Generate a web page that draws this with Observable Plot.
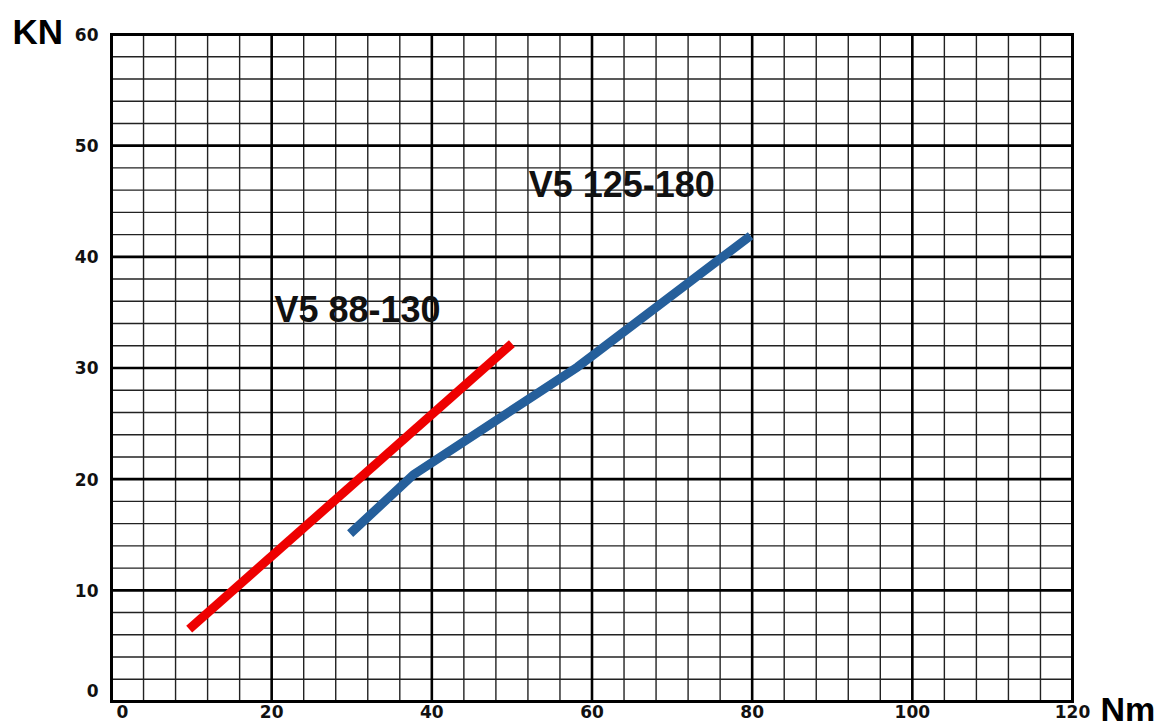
<!DOCTYPE html>
<html>
<head>
<meta charset="utf-8">
<script src="https://cdn.jsdelivr.net/npm/d3@7"></script>
<script src="https://cdn.jsdelivr.net/npm/@observablehq/plot@0.6"></script>
<style>
  html, body { margin: 0; padding: 0; background: #fff; }
  #chart svg { display: block; }
</style>
</head>
<body>
<div id="chart"></div>
<script>
// Series data (Nm -> KN)
const redX = [9.7, 50.0];
const redY = [6.5, 32.2];
const blueX = [29.8, 37.7, 58.2, 79.8];
const blueY = [15.1, 20.4, 30.1, 41.9];

// Series labels
const seriesNames = ["V5 88-130", "V5 125-180"];
const labelX = [20.35, 52.1];
const labelY = [34.1, 45.4];

// Axis ticks
const xMajorTicks = [0, 20, 40, 60, 80, 100, 120];
const xMinorTicks = [0, 4, 8, 12, 16, 20, 24, 28, 32, 36, 40, 44, 48, 52, 56, 60, 64, 68, 72, 76, 80, 84, 88, 92, 96, 100, 104, 108, 112, 116, 120];
const yMajorTicks = [0, 10, 20, 30, 40, 50, 60];
const yMinorTicks = [0, 2, 4, 6, 8, 10, 12, 14, 16, 18, 20, 22, 24, 26, 28, 30, 32, 34, 36, 38, 40, 42, 44, 46, 48, 50, 52, 54, 56, 58, 60];
const xAxisTitle = "Nm";
const yAxisTitle = "KN";

const redData = redX.map((x, i) => ({x, y: redY[i]}));
const blueData = blueX.map((x, i) => ({x, y: blueY[i]}));
const labels = seriesNames.map((name, i) => ({name, x: labelX[i], y: labelY[i]}));

const tickFont = "DejaVu Sans, Verdana, sans-serif";
const bigFont = "Liberation Sans, Arial, sans-serif";

const chart = Plot.plot({
  width: 1164,
  height: 728,
  marginLeft: 111,
  marginRight: 92,
  marginTop: 34,
  marginBottom: 27,
  x: {domain: [0, 120], axis: null},
  y: {domain: [0, 60], axis: null},
  style: {background: "#fff", overflow: "visible"},
  marks: [
    Plot.ruleX(xMinorTicks, {x: d => d, stroke: "#222", strokeWidth: 1.4}),
    Plot.ruleY(yMinorTicks, {y: d => d, stroke: "#222", strokeWidth: 1.4}),
    Plot.ruleX(xMajorTicks, {x: d => d, stroke: "#000", strokeWidth: 2.6}),
    Plot.ruleY(yMajorTicks, {y: d => d, stroke: "#000", strokeWidth: 2.6}),
    Plot.frame({stroke: "#000", strokeWidth: 3}),
    Plot.line(redData, {x: "x", y: "y", stroke: "#ee0000", strokeWidth: 9, strokeLinecap: "butt"}),
    Plot.line(blueData, {x: "x", y: "y", stroke: "#255f9b", strokeWidth: 9, strokeLinecap: "butt", strokeLinejoin: "round"}),
    Plot.text(labels, {x: "x", y: "y", text: "name", textAnchor: "start", lineAnchor: "bottom",
      fontFamily: bigFont, fontWeight: "bold", fontSize: 36, fill: "#111"}),
    // x tick labels
    Plot.text(xMajorTicks.slice(1), {x: d => d, text: d => String(d), frameAnchor: "bottom", dy: 16,
      fontFamily: tickFont, fontWeight: "bold", fontSize: 17, fill: "#111"}),
    Plot.text(xMajorTicks.slice(0, 1), {x: d => d, text: d => String(d), frameAnchor: "bottom", dy: 16, dx: 11,
      fontFamily: tickFont, fontWeight: "bold", fontSize: 17, fill: "#111"}),
    // y tick labels
    Plot.text(yMajorTicks.slice(1), {y: d => d, text: d => String(d), frameAnchor: "left", textAnchor: "end", dx: -13, dy: 1,
      fontFamily: tickFont, fontWeight: "bold", fontSize: 17, fill: "#111"}),
    Plot.text(yMajorTicks.slice(0, 1), {y: d => d, text: d => String(d), frameAnchor: "left", textAnchor: "end", dx: -13, dy: -10,
      fontFamily: tickFont, fontWeight: "bold", fontSize: 17, fill: "#111"}),
    // axis titles
    Plot.text([yAxisTitle], {text: d => d, frameAnchor: "top-left", textAnchor: "start", lineAnchor: "bottom", dx: -99, dy: 9,
      fontFamily: bigFont, fontWeight: "bold", fontSize: 35, fill: "#000"}),
    Plot.text([xAxisTitle], {text: d => d, frameAnchor: "bottom-right", textAnchor: "start", lineAnchor: "middle", dx: 28, dy: 9,
      fontFamily: bigFont, fontWeight: "bold", fontSize: 34, fill: "#000"})
  ]
});
document.getElementById("chart").appendChild(chart);
</script>
</body>
</html>
